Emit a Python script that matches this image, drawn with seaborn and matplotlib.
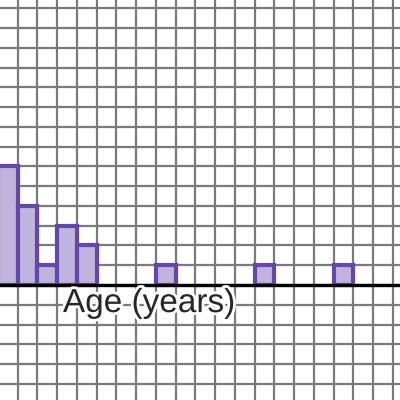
import numpy as np
import pandas as pd
import matplotlib as mpl
mpl.use("agg")
import matplotlib.pyplot as plt
import matplotlib.patheffects as pe
import seaborn as sns

# Histogram of ages, one bin per grid square
bin_left = [0, 1, 2, 3, 4, 8, 13, 17]
counts = [6, 4, 1, 3, 2, 1, 1, 1]
xlabel = "Age (years)"

sns.set_style("white")
mpl.rcParams["font.family"] = ["Liberation Sans", "DejaVu Sans"]

df = pd.DataFrame({"age": bin_left, "count": counts})

fig = plt.figure(figsize=(4, 4), dpi=100)
ax = fig.add_axes([0, 0, 1, 1])

sns.histplot(data=df, x="age", weights="count", binwidth=1, binrange=(0, 18),
             color="#c0b3dc", alpha=1, edgecolor="#6447ad", linewidth=3,
             ax=ax, zorder=3)

# drop the empty bins so they leave no outline
for p in ax.patches:
    if p.get_height() == 0:
        p.set_visible(False)

ax.set_xlim(0.114, 20.36)
ax.set_ylim(-5.82, 14.42)
ax.set_xticks(np.arange(1, 21))
ax.set_yticks(np.arange(-5, 15))
ax.grid(True, color="#7a7a7a", linewidth=1.6, zorder=0)
ax.set_axisbelow(True)
ax.tick_params(length=0, labelbottom=False, labelleft=False)
ax.set_xlabel("")
ax.set_ylabel("")
for s in ax.spines.values():
    s.set_visible(False)

ax.axhline(0, color="black", linewidth=2.4, zorder=4)

ax.text(3.3, -1.37, xlabel, fontsize=24, ha="left", va="baseline", zorder=5,
        path_effects=[pe.withStroke(linewidth=4, foreground="white")])

fig.savefig("out.png", dpi=100)
